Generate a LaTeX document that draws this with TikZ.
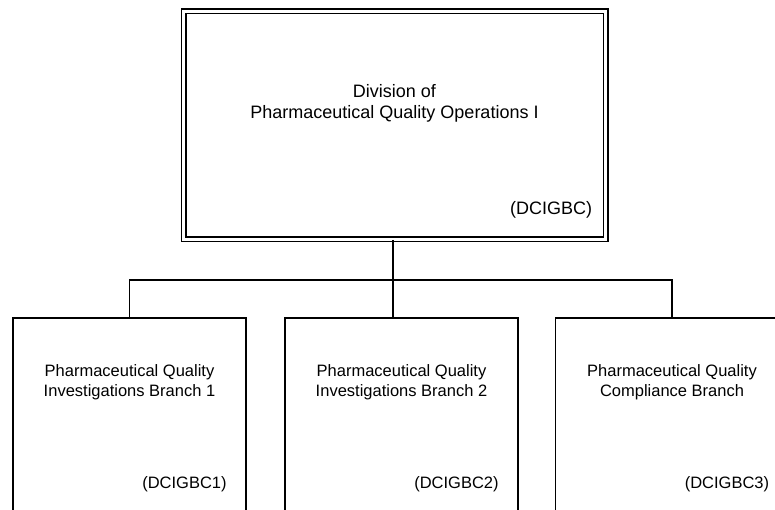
\documentclass[tikz,border=0pt]{standalone}
\usepackage{fontspec}
\setmainfont{Liberation Sans}
\usepackage{tikz}
\usetikzlibrary{positioning}

\begin{document}
\begin{tikzpicture}[x=1pt,y=-1pt]
\tikzstyle{divbox}=[rectangle,draw=black,double,double distance=3pt,line width=1.5pt,
                    minimum width=422pt,minimum height=228pt,inner sep=0pt]
\tikzstyle{branchbox}=[rectangle,draw=black,line width=1.6pt,fill=white,
                       minimum width=233pt,minimum height=260pt,inner sep=0pt]
\tikzstyle{bigtext}=[font=\fontsize{18}{21}\selectfont,align=center,inner sep=0pt]
\tikzstyle{smalltext}=[font=\fontsize{16.5}{19.5}\selectfont,align=center,inner sep=0pt]
\tikzstyle{link}=[line width=1.6pt,black]

\useasboundingbox (0,0) rectangle (775,509);
\clip (0,0) rectangle (775,509);

% --- Division ---
\node[divbox] (division) at (394.5,125) {};
\node[bigtext] (divtitle) at ([yshift=22pt]division.center)
  {Division of\\Pharmaceutical Quality Operations I};
\node[bigtext,anchor=east] (divcode) at ([xshift=-14pt,yshift=30pt]division.south east) {(DCIGBC)};

% --- Branches ---
\node[branchbox] (branch1) at (129.5,448) {};
\node[branchbox] (branch2) at (401.5,448) {};
\node[branchbox] (branch3) at (672,448) {};

\node[smalltext] (title1) at ([yshift=-65pt]branch1.north)
  {Pharmaceutical Quality\\Investigations Branch 1};
\node[smalltext] (title2) at ([yshift=-65pt]branch2.north)
  {Pharmaceutical Quality\\Investigations Branch 2};
\node[smalltext] (title3) at ([yshift=-65pt]branch3.north)
  {Pharmaceutical Quality\\Compliance Branch};

\node[smalltext,anchor=east] (code1) at ([xshift=-20pt,yshift=-167pt]branch1.north east) {(DCIGBC1)};
\node[smalltext,anchor=east] (code2) at ([xshift=-20pt,yshift=-167pt]branch2.north east) {(DCIGBC2)};
\node[smalltext,anchor=east] (code3) at ([xshift=-20pt,yshift=-167pt]branch3.north east) {(DCIGBC3)};

% --- Connectors ---
\coordinate (bus) at (393,280);
\draw[link] (division.south -| bus) -- (branch2.north -| bus);
\draw[link] (branch1.north) |- (bus) -| (branch3.north);

\end{tikzpicture}
\end{document}
